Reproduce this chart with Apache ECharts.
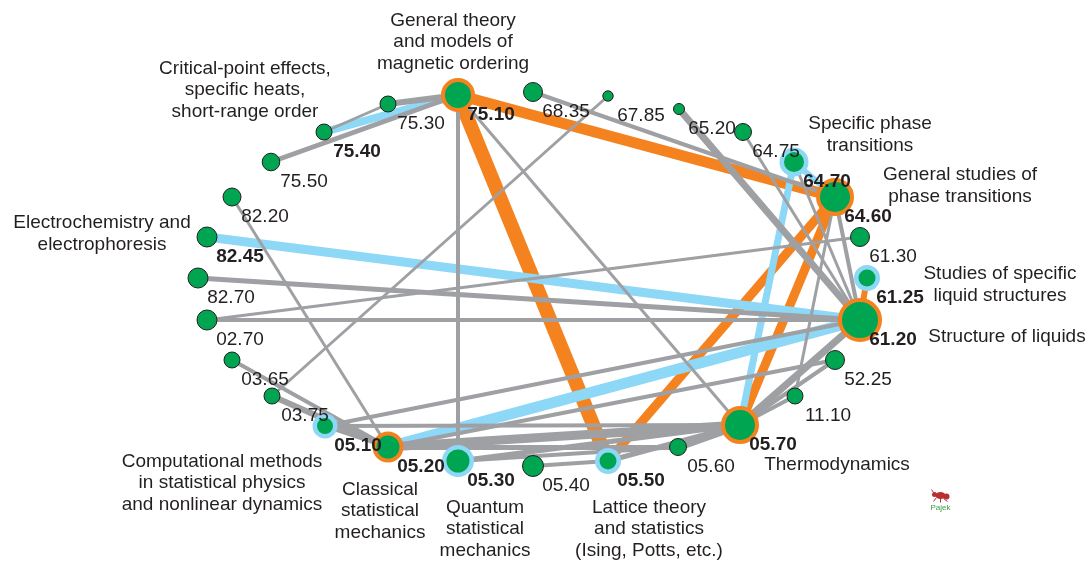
<!DOCTYPE html>
<html>
<head>
<meta charset="utf-8">
<title>Network of physics classification codes</title>
<script src="https://cdn.jsdelivr.net/npm/echarts@6/dist/echarts.min.js"></script>
<style>
    html, body { margin: 0; padding: 0; background: #ffffff; }
    #main { width: 1089px; height: 561px; }
</style>
</head>
<body>
<div id="main"></div>
<script>
    // vertices, read round the circle clockwise from the top
    const codes = ['75.10', '68.35', '67.85', '65.20', '64.75', '64.70', '64.60', '61.30', '61.25', '61.20',
        '52.25', '11.10', '05.70', '05.60', '05.50', '05.40', '05.30', '05.20', '05.10', '03.75',
        '03.65', '02.70', '82.70', '82.45', '82.20', '75.50', '75.40', '75.30']
    // layout of the vertices (Pajek drawing coordinates)
    const nodeX = [458, 533, 608, 679, 743, 794, 835, 860, 867, 860,
        835, 795, 740, 678, 608, 533, 458, 388, 325, 272,
        232, 207, 198, 207, 232, 271, 324, 388]
    const nodeY = [95, 92, 96, 109, 132, 162, 197, 237, 278, 320,
        360, 396, 425, 447, 461, 466, 461, 447, 426, 396,
        360, 320, 278, 237, 197, 162, 132, 104]
    // vertex size (radius of the green disc)
    const nodeRadius = [13, 9, 4.7, 5, 8, 10, 15, 9, 8.5, 18,
        9, 7.5, 15, 8, 8.5, 10, 11.5, 11.5, 8, 7.5,
        7.5, 9.5, 9.5, 9.5, 8.5, 8.3, 7.5, 7.5]
    // ring class: o = orange, b = light blue, '' = none
    const nodeRing = ['o', '', '', '', '', 'b', 'o', '', 'b', 'o',
        '', '', 'o', '', 'b', '', 'b', 'o', 'b', '',
        '', '', '', '', '', '', '', '']
    const boldCodes = ['75.10', '75.40', '82.45', '05.10', '05.20', '05.30', '05.50', '05.70',
        '61.20', '61.25', '64.60', '64.70']
    const descCodes = ['75.10', '75.40', '64.70', '64.60', '61.25', '61.20', '05.70', '05.50',
        '05.30', '05.20', '05.10', '82.45']
    const descTexts = [
        'General theory\nand models of\nmagnetic ordering',
        'Critical-point effects,\nspecific heats,\nshort-range order',
        'Specific phase\ntransitions',
        'General studies of\nphase transitions',
        'Studies of specific\nliquid structures',
        'Structure of liquids',
        'Thermodynamics',
        'Lattice theory\nand statistics\n(Ising, Potts, etc.)',
        'Quantum\nstatistical\nmechanics',
        'Classical\nstatistical\nmechanics',
        'Computational methods\nin statistical physics\nand nonlinear dynamics',
        'Electrochemistry and\nelectrophoresis'
    ]
    // edges: source, target, weight (line width), class
    const edgeSource = ['75.10', '75.10', '64.60', '64.60', '61.25',
        '75.40', '82.45', '61.20', '64.70', '64.70',
        '75.50', '75.40', '75.30', '75.10', '75.10', '68.35', '67.85', '65.20', '64.75', '64.70',
        '64.60', '64.60', '82.20', '82.70', '02.70', '02.70', '03.65', '03.75', '05.10', '05.10',
        '05.10', '05.20', '05.20', '05.20', '05.30', '05.30', '05.40', '05.50', '05.60', '11.10',
        '52.25', '61.20']
    const edgeTarget = ['05.50', '64.60', '05.50', '05.70', '61.20',
        '75.10', '61.20', '05.20', '05.70', '64.60',
        '75.10', '75.30', '75.10', '05.30', '05.70', '64.60', '03.75', '61.20', '61.20', '61.20',
        '61.20', '11.10', '05.20', '61.20', '61.20', '61.30', '05.20', '05.20', '05.20', '05.70',
        '61.20', '05.70', '52.25', '05.60', '05.60', '05.70', '05.50', '05.70', '05.70', '05.70',
        '05.70', '05.70']
    const edgeWeight = [14, 11, 9, 9, 6,
        8, 9, 11, 7, 6,
        5, 3, 6, 4, 3, 4, 3, 7, 3, 3,
        4, 3, 3, 5, 4, 3, 4, 6, 4, 4,
        4, 9, 4, 5, 4, 5, 4, 5, 8, 4,
        4, 7]
    const edgeClass = ['o', 'o', 'o', 'o', 'o',
        'b', 'b', 'b', 'b', 'b',
        'g', 'g', 'g', 'g', 'g', 'g', 'g', 'g', 'g', 'g',
        'g', 'g', 'g', 'g', 'g', 'g', 'g', 'g', 'g', 'g',
        'g', 'g', 'g', 'g', 'g', 'g', 'g', 'g', 'g', 'g',
        'g', 'g']

    const GREEN = '#00a551'
    const ORANGE = '#f4821f'
    const BLUE = '#8dd7f7'
    const GRAY = '#9fa0a3'
    const INK = '#231f20'
    const FONT = '"Liberation Sans", Arial, Helvetica, sans-serif'
    const classColor = { o: ORANGE, b: BLUE, g: GRAY }

    // where the description block sits relative to its vertex
    const descOffset = {
        '75.10': [-5, -53],
        '75.40': [-79, -42],
        '64.70': [76, -27],
        '64.60': [125, -11],
        '61.25': [133, 7],
        '61.20': [147, 17],
        '05.70': [97, 40],
        '05.50': [41, 68],
        '05.30': [27, 68],
        '05.20': [-8, 64],
        '05.10': [-103, 57],
        '82.45': [-105, -3]
    }

    const chart = echarts.init(document.getElementById('main'), null, { renderer: 'canvas' })

    const nodes = codes.map((code, i) => {
        const ring = nodeRing[i]
        const ringWidth = ring === 'o' ? 4 : (ring === 'b' ? 4.5 : 1)
        const r = nodeRadius[i]
        return {
            name: code,
            value: [nodeX[i], nodeY[i]],
            symbol: 'circle',
            symbolSize: 2 * (r + ringWidth / 2),
            itemStyle: {
                color: GREEN,
                borderColor: ring === 'o' ? ORANGE : (ring === 'b' ? BLUE : INK),
                borderWidth: ringWidth,
                opacity: 1
            },
            label: {
                fontWeight: boldCodes.indexOf(code) >= 0 ? 'bold' : 'normal'
            }
        }
    })

    const links = edgeSource.map((s, i) => ({
        source: s,
        target: edgeTarget[i],
        lineStyle: {
            width: edgeWeight[i],
            color: classColor[edgeClass[i]],
            opacity: 1,
            curveness: 0
        }
    }))

    const descData = descCodes.map((code, i) => {
        const k = codes.indexOf(code)
        return {
            value: [nodeX[k], nodeY[k]],
            label: {
                formatter: descTexts[i],
                offset: descOffset[code]
            }
        }
    })

    const option = {
        animation: false,
        backgroundColor: '#ffffff',
        grid: { left: 0, right: 0, top: 0, bottom: 0 },
        xAxis: { type: 'value', min: 0, max: 1089, show: false },
        yAxis: { type: 'value', min: 0, max: 561, inverse: true, show: false },
        series: [{
            type: 'graph',
            coordinateSystem: 'cartesian2d',
            layout: 'none',
            silent: true,
            data: nodes,
            links: links,
            edgeSymbol: ['none', 'none'],
            label: {
                show: true,
                position: 'inside',
                offset: [33, 20],
                formatter: '{b}',
                color: INK,
                fontSize: 19,
                fontFamily: FONT,
                textBorderWidth: 0,
                align: 'center',
                verticalAlign: 'middle'
            },
            emphasis: { disabled: true }
        }, {
            // descriptive names of the main vertices
            type: 'scatter',
            silent: true,
            z: 5,
            symbolSize: 0,
            itemStyle: { opacity: 1 },
            data: descData,
            label: {
                show: true,
                position: 'inside',
                color: INK,
                opacity: 1,
                fontSize: 19,
                lineHeight: 21.5,
                fontFamily: FONT,
                textBorderWidth: 0,
                align: 'center',
                verticalAlign: 'middle'
            },
            emphasis: { disabled: true }
        }],
        graphic: [{
            // Pajek logo
            type: 'group',
            left: 929,
            top: 487,
            children: [
                { type: 'ellipse', shape: { cx: 10, cy: 7, rx: 5, ry: 3.5 }, style: { fill: '#b8312f' } },
                { type: 'circle', shape: { cx: 4, cy: 6, r: 2.5 }, style: { fill: '#b8312f' } },
                { type: 'circle', shape: { cx: 16, cy: 8, r: 3 }, style: { fill: '#b8312f' } },
                { type: 'polyline', shape: { points: [[6, 9], [3, 13]] }, style: { stroke: '#b8312f', lineWidth: 1 } },
                { type: 'polyline', shape: { points: [[10, 10], [10, 14]] }, style: { stroke: '#b8312f', lineWidth: 1 } },
                { type: 'polyline', shape: { points: [[13, 10], [17, 13]] }, style: { stroke: '#b8312f', lineWidth: 1 } },
                { type: 'polyline', shape: { points: [[3, 4], [1, 1]] }, style: { stroke: '#b8312f', lineWidth: 1 } },
                {
                    type: 'text', x: 0, y: 15,
                    style: { text: 'Pajek', fill: '#3d9a46', font: '8px ' + FONT }
                }
            ]
        }]
    }
    chart.setOption(option)
</script>
</body>
</html>
